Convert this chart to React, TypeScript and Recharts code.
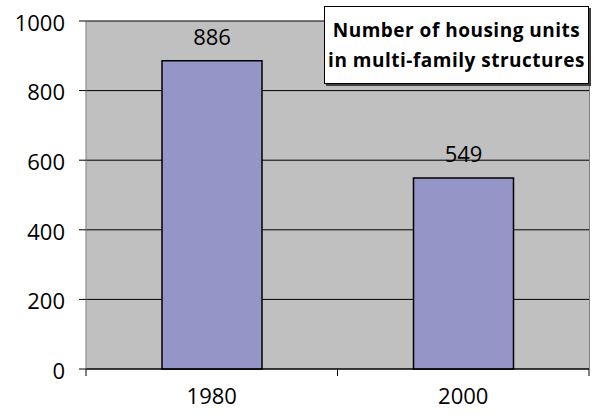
import { BarChart, Bar, XAxis, YAxis, CartesianGrid, LabelList } from 'recharts';

const years = ['1980', '2000'];
const units = [886, 549];
const yTicks = [0, 200, 400, 600, 800, 1000];

const data = years.map((year, i) => ({ year, units: units[i] }));

const W = 594;
const H = 418;
const margin = { top: 21, right: 5, left: 0, bottom: 0 };
const Y_W = 86;
const X_H = 49;
const band = (W - Y_W - margin.right) / years.length;

const font = '"Open Sans", "Noto Sans", sans-serif';
const fs = 22;

function XTick(props: any) {
  const { x, y, payload, index } = props;
  const top = y - 18;
  return (
    <g>
      <line x1={x - band / 2} y1={top} x2={x - band / 2} y2={top + 7} stroke="#000" />
      {index === years.length - 1 && (
        <line x1={x + band / 2} y1={top} x2={x + band / 2} y2={top + 7} stroke="#000" />
      )}
      <text x={x} y={y + 17} textAnchor="middle" fontSize={fs} fill="#000" fontFamily={font}>
        {payload.value}
      </text>
    </g>
  );
}

export default function App() {
  return (
    <div style={{ position: 'absolute', left: 0, top: 0, width: W, height: H, background: '#fff' }}>
      <BarChart width={W} height={H} data={data} margin={margin} barSize={100}>
        <CartesianGrid vertical={false} stroke="#000" fill="#C0C0C0" fillOpacity={1} />
        <XAxis
          dataKey="year"
          height={X_H}
          axisLine={{ stroke: '#000' }}
          tickLine={false}
          tickMargin={12}
          tick={<XTick />}
          interval={0}
        />
        <YAxis
          width={Y_W}
          domain={[0, 1000]}
          ticks={yTicks}
          axisLine={{ stroke: '#808080' }}
          tickLine={{ stroke: '#000' }}
          tickSize={7}
          tickMargin={14}
          tick={{ fontSize: fs, fill: '#000', fontFamily: font, dy: 2 }}
        />
        <Bar dataKey="units" fill="#9595C8" stroke="#000" strokeWidth={1.5} isAnimationActive={false}>
          <LabelList dataKey="units" position="top" offset={16} fontSize={fs} fill="#000" fontFamily={font} />
        </Bar>
      </BarChart>
      <div
        style={{
          position: 'absolute',
          left: W - 5,
          top: 21,
          width: 1,
          height: 348,
          background: '#808080',
        }}
      />
      <div
        style={{
          position: 'absolute',
          left: 324,
          top: 6,
          width: 263,
          height: 76,
          background: '#fff',
          border: '1px solid #000',
          boxShadow: '2px 2px 0 #404040',
          fontFamily: font,
          fontWeight: 700,
          fontSize: 19,
          letterSpacing: 0.5,
          lineHeight: '30px',
          textAlign: 'center',
          display: 'flex',
          flexDirection: 'column',
          justifyContent: 'center',
          color: '#000',
          whiteSpace: 'nowrap',
        }}
      >
        <div>Number of housing units</div>
        <div>in multi-family structures</div>
      </div>
    </div>
  );
}
